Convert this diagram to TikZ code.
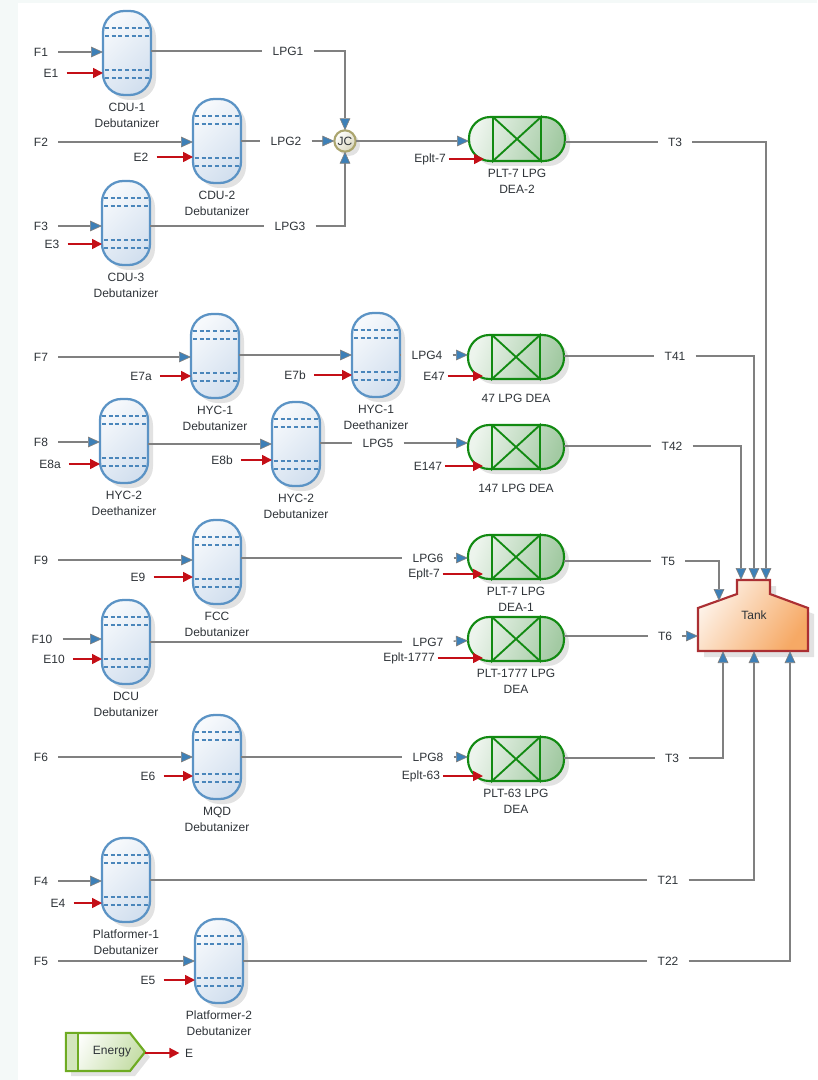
\documentclass[tikz,border=0pt]{standalone}
\usepackage{fontspec}
\setmainfont{Liberation Sans}
\usepackage{xcolor}
\usetikzlibrary{arrows.meta,positioning,calc}
\definecolor{cBack}{HTML}{F4F9F8}
\definecolor{cLine}{HTML}{808080}
\definecolor{cInk}{HTML}{2E3338}
\definecolor{cTip}{HTML}{3D80B8}
\definecolor{cRed}{HTML}{C40F17}
\definecolor{cCol}{HTML}{5B93C5}
\definecolor{cTray}{HTML}{4A86BB}
\definecolor{cColFill}{HTML}{D3E0EF}
\definecolor{cDea}{HTML}{128A12}
\definecolor{cDeaFill}{HTML}{A3CAA3}
\definecolor{cTank}{HTML}{AB2F33}
\definecolor{cTankFill}{HTML}{F6A965}
\definecolor{cJc}{HTML}{ABA56E}
\definecolor{cEn}{HTML}{6EAB22}
\definecolor{cShade}{HTML}{E2E2E2}
\tikzset{
  colbox/.style={draw=cCol,line width=1.7pt,rounded corners=16pt,minimum width=36pt,minimum height=63pt,inner sep=0pt,outer sep=0pt,left color=cColFill!20,right color=cColFill,shading angle=45},
  deabox/.style={draw=cDea,line width=1.6pt,rounded corners=16pt,minimum width=72pt,minimum height=33pt,inner sep=0pt,outer sep=0pt,left color=cDeaFill!20,right color=cDeaFill,shading angle=70},
  tray/.style={draw=cTray,line width=1.4pt,dash pattern=on 3pt off 2pt},
  deax/.style={draw=cDea,line width=1.4pt},
  lbl/.style={font=\fontsize{9}{12}\selectfont,text=cInk,inner ysep=2pt,inner xsep=7.5pt,align=center},
  tag/.style={font=\fontsize{9}{12}\selectfont,text=cInk,inner sep=1pt,align=center},
  strm/.style={draw=cLine,line width=1pt,-{Triangle[length=9pt,width=8pt,fill=cTip,line width=0.5pt]}},
  wire/.style={draw=cLine,line width=1pt},
  heat/.style={draw=cRed,line width=1.2pt,-{Triangle[length=7.5pt,width=7.5pt]}},
}
\begin{document}
\begin{tikzpicture}[x=0.75pt,y=-0.75pt,label distance=5pt]
  \useasboundingbox (0,0) rectangle (817,1080);
  \fill[cBack] (0,0) rectangle (817,3);
  \fill[cBack] (0,0) rectangle (18,1080);
  \foreach \n/\cx/\cy/\t in {cdu1/127/53/{CDU-1\\Debutanizer}, cdu2/217/141/{CDU-2\\Debutanizer}, cdu3/126/223/{CDU-3\\Debutanizer}, hyca/215/356/{HYC-1\\Debutanizer}, hycb/376/355/{HYC-1\\Deethanizer}, hycc/124/441/{HYC-2\\Deethanizer}, hycd/296/444/{HYC-2\\Debutanizer}, fcc/217/562/{FCC\\Debutanizer}, dcu/126/642/{DCU\\Debutanizer}, mqd/217/757/{MQD\\Debutanizer}, plata/126/880/{Platformer-1\\Debutanizer}, platb/219/961/{Platformer-2\\Debutanizer}}{
    \fill[cShade,rounded corners=16pt] ($(\cx,\cy)+(-19,-37)$) rectangle ++(48,84);
    \node[colbox,label={[tag]below:\t}] (\n) at (\cx,\cy) {};
    \foreach \dy in {-25,-17,17,25}
      \draw[tray] ($(\n)+(-22,\dy)$) -- ($(\n)+(22,\dy)$);
  }
  \foreach \n/\cx/\cy/\t in {deab/517/139/{PLT-7 LPG\\DEA-2}, dea47/516/357/{\rule{0pt}{11.5pt}47 LPG DEA}, dea147/516/447/{\rule{0pt}{11.5pt}147 LPG DEA}, deaa/516/557/{PLT-7 LPG\\DEA-1}, dea1777/516/639/{PLT-1777 LPG\\DEA}, dea63/516/759/{PLT-63 LPG\\DEA}}{
    \fill[cShade,rounded corners=16pt] ($(\cx,\cy)+(-43,-17)$) rectangle ++(96,44);
    \node[deabox,label={[tag]below:\t}] (\n) at (\cx,\cy) {};
    \draw[deax] ($(\n)+(-24,-22)$) -- ($(\n)+(-24,22)$) -- ($(\n)+(24,-22)$) -- ($(\n)+(24,22)$) -- ($(\n)+(-24,-22)$);
    \coordinate (\n-in) at ($(\n)+(-33,0)$);
  }
  \fill[cShade] (349,145) circle (11);
  \node[circle,draw=cJc,line width=1.6pt,left color=white,right color=cJc!45,shading angle=45,minimum size=16pt,inner sep=0pt,outer sep=0pt,font=\fontsize{9}{11}\selectfont,text=cInk] (jc) at (345,141) {JC};
  % tank
  \fill[cShade] (704,614) -- (743,600) -- (743,586) -- (776,586) -- (776,600) -- (814,614) -- (814,657) -- (704,657) -- cycle;
  \draw[draw=cTank,line width=1.6pt,left color=cTankFill!15,right color=cTankFill,shading angle=55] (698,608) -- (737,594) -- (737,580) -- (770,580) -- (770,594) -- (808,608) -- (808,651) -- (698,651) -- cycle;
  \node[tag] (tank) at (754,615) {Tank};
  \foreach \n/\cx/\cy in {tankT1/741/580, tankT2/754/580, tankT3/766/580, tankL/719/601, tankW/698/636, tankB1/723/651, tankB2/754/651, tankB3/790/651}
    \coordinate (\n) at (\cx,\cy);
  % energy
  \fill[cShade] (71,1038) -- (135,1038) -- (150,1057) -- (135,1076) -- (71,1076) -- cycle;
  \draw[draw=cEn,line width=1.6pt,left color=white,right color=cEn!40,shading angle=60] (66,1033) -- (130,1033) -- (145,1052) -- (130,1071) -- (66,1071) -- cycle;
  \fill[cEn!30] (67,1034) rectangle (78,1070);
  \draw[draw=cEn,line width=1.6pt] (78,1033) -- (78,1071);
  \node[tag] (energy) at (112,1052) {Energy};
  \coordinate (energyTip) at (145,1053);
  \node[tag,inner xsep=4pt] (e) at (189,1053) {E};
  \draw[heat] (energyTip) -- (e);
  % feeds
  \foreach \n/\t/\cx/\cy/\to in {f1/F1/41/52/cdu1, f2/F2/41/142/cdu2, f3/F3/41/226/cdu3, f7/F7/41/357/hyca, f8/F8/41/442/hycc, f9/F9/41/560/fcc, f10/F10/42/639/dcu, f6/F6/41/757/mqd, f4/F4/41/881/plata, f5/F5/41/961/platb}{
    \node[lbl] (\n) at (\cx,\cy) {\t};
    \draw[strm] (\n) -- (\n -| \to.west);
  }
  % energy streams
  \foreach \n/\t/\cx/\cy/\to in {e1/E1/51/73/cdu1.west, e2/E2/141/157/cdu2.west, e3/E3/52/244/cdu3.west, eseven/E7a/141/376/hyca.west, esevenb/E7b/295/375/hycb.west, eeight/E8a/50/464/hycc.west, eeightb/E8b/222/460/hycd.west, e9/E9/138/577/fcc.west, e10/E10/54/659/dcu.west, e6/E6/148/776/mqd.west, e4/E4/58/903/plata.west, e5/E5/148/980/platb.west}{
    \node[lbl,inner xsep=6pt] (\n) at (\cx,\cy) {\t};
    \draw[heat] (\n) -- (\n -| \to);
  }
  \foreach \n/\t/\cx/\cy/\to in {epb/Eplt-7/430/159/deab-in, e47/E47/434/376/dea47-in, e147/E147/428/466/dea147-in, epa/Eplt-7/424/574/deaa-in, e1777/Eplt-1777/409/658/dea1777-in, e63/Eplt-63/421/776/dea63-in}{
    \node[lbl,inner xsep=2pt] (\n) at (\cx,\cy) {\t};
    \draw[heat] (\n) -- (\n -| \to);
  }
  % product streams
  \foreach \n/\t/\cx/\cy in {lpga/LPG1/288/51, lpgb/LPG2/286/141, lpgc/LPG3/290/226, lpgd/LPG4/427/355, lpge/LPG5/378/443, lpgf/LPG6/428/558, lpgg/LPG7/428/642, lpgh/LPG8/428/757, tb/T3/675/142, tfa/T41/675/356, tfb/T42/672/446, tfive/T5/668/561, tsix/T6/665/636, tc/T3/672/758, tga/T21/668/880, tgb/T22/668/961}
    \node[lbl] (\n) at (\cx,\cy) {\t};
  \foreach \a/\b in {cdu1/lpga, cdu2/lpgb, cdu3/lpgc, hycb/lpgd, hycd/lpge, fcc/lpgf, dcu/lpgg, mqd/lpgh, deab/tb, dea47/tfa, dea147/tfb, deaa/tfive, dea1777/tsix, dea63/tc, plata/tga, platb/tgb}
    \draw[wire] (\b -| \a.east) -- (\b);
  \draw[strm] (lpga) -| (jc);
  \draw[strm] (lpgb) -- (jc);
  \draw[strm] (lpgc) -| (jc);
  \draw[strm] (jc) -- (jc -| deab.west);
  \draw[strm] (hyca.east |- hycb) -- (hycb);
  \draw[strm] (lpgd) -- (lpgd -| dea47.west);
  \draw[strm] (hycc.east |- hycd) -- (hycd);
  \draw[strm] (lpge) -- (lpge -| dea147.west);
  \draw[strm] (lpgf) -- (lpgf -| deaa.west);
  \draw[strm] (lpgg) -- (dea1777);
  \draw[strm] (lpgh) -- (lpgh -| dea63.west);
  \draw[strm] (tb) -| (tankT3);
  \draw[strm] (tfa) -| (tankT2);
  \draw[strm] (tfb) -| (tankT1);
  \draw[strm] (tfive) -| (tankL);
  \draw[strm] (tsix) -- (tankW);
  \draw[strm] (tc) -| (tankB1);
  \draw[strm] (tga) -| (tankB2);
  \draw[strm] (tgb) -| (tankB3);
\end{tikzpicture}
\end{document}
